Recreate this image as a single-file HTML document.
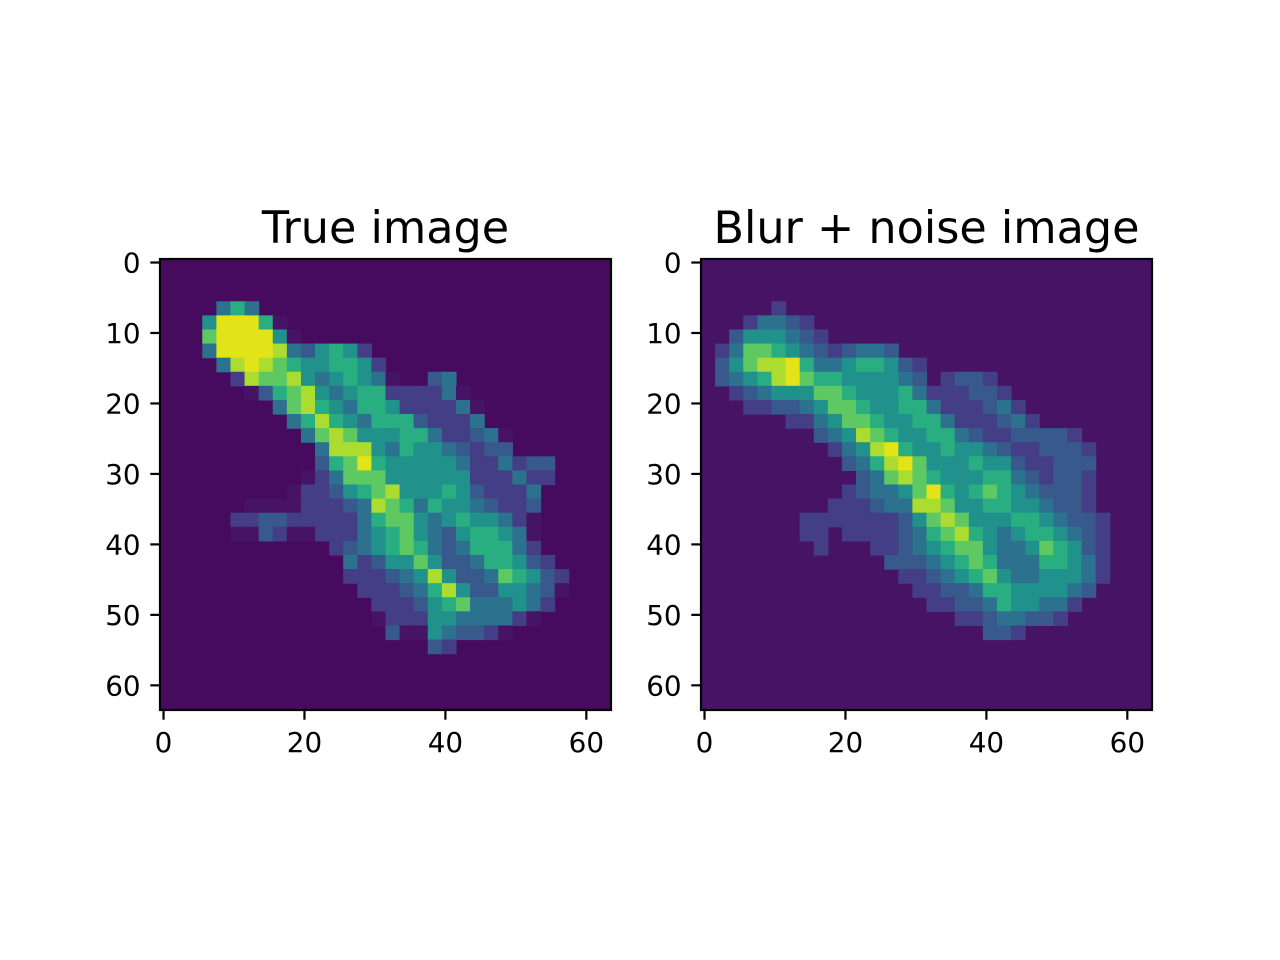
<!DOCTYPE html>
<html><head><meta charset="utf-8"><style>
html,body{margin:0;padding:0;background:#fff;}
svg{display:block;}
text{font-family:"DejaVu Sans","Liberation Sans",sans-serif;fill:#000;}
</style></head><body>
<svg id="fig" width="1280" height="960" viewBox="0 0 1280 960"></svg>
<script>
// ---- data ----
const levelColors=["#460b5e","#471365","#433e85","#38598c","#2c728e","#21918c","#28ae80","#5ec962","#addc30","#e2e418"];
const gridSize=32;           // coarse cells (each = 2x2 image pixels)
const imgSize=64;            // image is 64x64 pixels
const tickValues=[0,20,40,60];
const yTickValues=[0,10,20,30,40,50,60];
const titles=["True image","Blur + noise image"];
const bgLevels=[0,1];
// rows: [rowIndex, startCol, levels]
const trueRows=[
[3,4,"464"],[4,3,"599961"],[5,3,"7999951"],[6,3,"499998435652"],
[7,4,"489876556652"],[8,5,"2877854565410034"],
[9,6,"1367854566222241"],[10,8,"478654665222241"],[11,9,"46865466632224"],
[12,10,"478755566422341"],[13,11,"48885465543233"],[14,11,"36796555554224233"],
[15,10,"124777555555222422"],[16,9,"122356785556532224"],[17,6,"111122234876465543223"],
[18,5,"2233222224677545655421"],[19,5,"1132112224567543566541"],[20,12,"234567643466642"],
[21,13,"423557533466532"],[22,13,"2223458533476532"],[23,14,"222346853355431"],
[24,15,"2223567444542"],[25,15,"122255444421"],[26,16,"311543321"],[27,19,"32"]
];
const blurRows=[
[3,4,"121"],[4,3,"24432"],[5,2,"3555432"],[6,1,"2477654323443"],
[7,1,"357889644566532"],[8,1,"34568976655554312332"],[9,2,"23455577655564222332"],
[10,3,"22334577655664222342"],[11,6,"224577655664222342"],[12,8,"3458765566432233332"],
[13,9,"2458965565543223332"],[14,10,"346897555655322333"],[15,11,"34787655566432332"],
[16,10,"234457965676543332"],[17,9,"2223448875566554332"],[18,7,"2222222357875556654332"],
[19,7,"2212222346786545665432"],[20,8,"211122345677544576532"],[21,13,"3334567644466542"],
[22,14,"223456754455542"],[23,15,"2233466555543"],[24,16,"22334655442"],[25,18,"22344332"],[26,20,"332"]
];
// ---- drawing ----
const NS="http://www.w3.org/2000/svg";
const svg=document.getElementById('fig');
function mk(tag,attrs,parent){const e=document.createElementNS(NS,tag);for(const k in attrs)e.setAttribute(k,attrs[k]);(parent||svg).appendChild(e);return e;}
const axesX=[160,701], axTop=259, axSize=451;
function sx(ax,v){return axesX[ax]+(v+0.5)*axSize/imgSize;}
function sy(v){return axTop+(v+0.5)*axSize/imgSize;}
[trueRows,blurRows].forEach((rows,ai)=>{
  const g=mk('g',{});
  
  
  const x0=axesX[ai];
  const bg=mk('rect',{x:x0,y:axTop,width:axSize,height:axSize,fill:levelColors[bgLevels[ai]]},g);
  
  
  const cs=axSize/gridSize;
  rows.forEach(([r,c0,s])=>{
    for(let i=0;i<s.length;i++){
      const lv=+s[i];
      if(lv===bgLevels[ai])continue;
      const cell=mk('rect',{x:(x0+(c0+i)*cs).toFixed(2),y:(axTop+r*cs).toFixed(2),width:(cs+0.6).toFixed(2),height:(cs+0.6).toFixed(2),fill:levelColors[lv]},g);
      
      
    }
  });
  const fr=mk('rect',{x:x0,y:axTop,width:axSize,height:axSize,fill:'none',stroke:'#000','stroke-width':2.2});
  
  
  const t=mk('text',{x:x0+axSize/2,y:243,'text-anchor':'middle','font-size':44.5});
  t.textContent=titles[ai];
  
  
  tickValues.forEach(v=>{
    const x=sx(ai,v);
    const tk=mk('line',{x1:x,x2:x,y1:axTop+axSize,y2:axTop+axSize+9.7,stroke:'#000','stroke-width':2.2});
    
    
    const lb=mk('text',{x:x,y:752,'text-anchor':'middle','font-size':27.8});
    lb.textContent=v;
    
    
  });
  yTickValues.forEach(v=>{
    const y=sy(v);
    const tk=mk('line',{x1:x0-9.7,x2:x0,y1:y,y2:y,stroke:'#000','stroke-width':2.2});
    
    
    const lb=mk('text',{x:x0-19.4,y:y+10,'text-anchor':'end','font-size':27.8});
    lb.textContent=v;
    
    
  });
});
</script>
</body></html>
